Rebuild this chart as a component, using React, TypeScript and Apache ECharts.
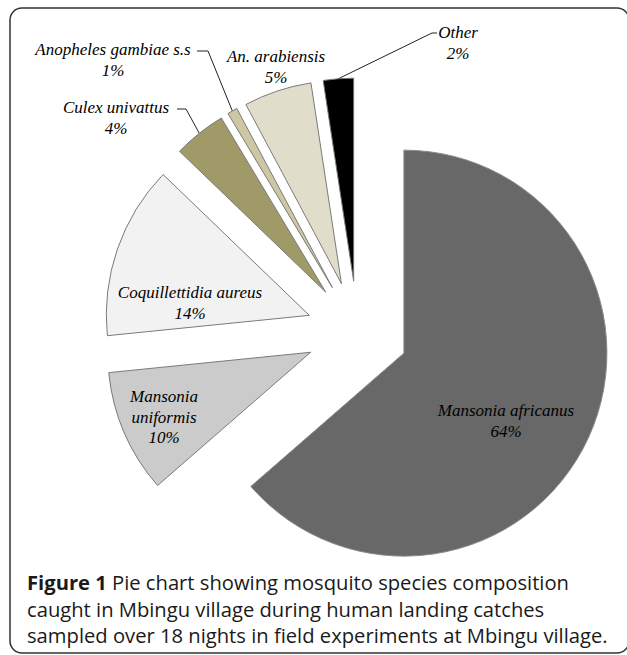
import React, { useEffect, useRef } from "react";
import * as echarts from "echarts";

// ---- data ----
const categories = [
  "Mansonia africanus",
  "Mansonia uniformis",
  "Coquillettidia aureus",
  "Culex univattus",
  "Anopheles gambiae s.s",
  "An. arabiensis",
  "Other",
];
const labelNames = [
  "Mansonia africanus",
  "Mansonia\nuniformis",
  "Coquillettidia aureus",
  "Culex univattus",
  "Anopheles gambiae s.s",
  "An. arabiensis",
  "Other",
];
// shares (labels show them rounded)
const values = [63.6, 9.8, 13.8, 4.2, 0.8, 5.4, 2.4];
const colors = ["#686868", "#cbcbcb", "#f2f2f2", "#a09a68", "#cdc7a4", "#e1ddcb", "#000000"];

const captionBold = "Figure 1";
const captionLines = [
  " Pie chart showing mosquito species composition",
  "caught in Mbingu village during human landing catches",
  "sampled over 18 nights in field experiments at Mbingu village.",
];

// ---- layout (not data) ----
const CX = 357.5;
const CY = 332;
const R = 203;
const EXPLODE = 51;
// label block centres
const labelPos: [number, number][] = [
  [506, 421],
  [164, 417],
  [190, 303],
  [116, 118],
  [113, 60],
  [276, 67],
  [458, 43],
];
// leader line: [elbow, end] or null
const leaders: ([number, number][] | null)[] = [
  null,
  null,
  null,
  [[186, 109], [177, 109]],
  [[208, 51], [197, 51]],
  null,
  [[432, 33], [437, 33]],
];
const insideLabel = [true, true, true, false, false, false, false];

export default function App() {
  const ref = useRef<HTMLDivElement>(null);
  useEffect(() => {
    if (!ref.current) return;
    const chart = echarts.init(ref.current, undefined, { renderer: "svg" });
    const total = values.reduce((a, b) => a + b, 0);
    let acc = 0;
    const mids = values.map((v) => {
      const m = (acc + v / 2) / total;
      acc += v;
      return m * Math.PI * 2;
    });

    const series = categories.map((_, i) => {
      const th = mids[i];
      const dx = Math.sin(th);
      const dy = -Math.cos(th);
      const cx = CX + EXPLODE * dx;
      const cy = CY + EXPLODE * dy;
      return {
        type: "pie",
        center: [cx, cy],
        radius: R,
        startAngle: 90,
        clockwise: true,
        silent: true,
        avoidLabelOverlap: false,
        minShowLabelAngle: 0,
        z: 2,
        label: {
          position: insideLabel[i] ? "inside" : "outside",
          fontFamily: "Liberation Serif",
          fontStyle: "italic",
          fontSize: 17,
          lineHeight: 20.5,
          color: "#000",
          formatter: (p: any) => `${labelNames[p.dataIndex]}\n${Math.round(p.percent)}%`,
        },
        labelLine: {
          show: true,
          length: 10,
          length2: 10,
          smooth: false,
          lineStyle: { color: "#222", width: 1 },
        },
        labelLayout: (p: any) => {
          if (p.dataIndex !== i) return {};
          const out: any = {
            x: labelPos[i][0],
            y: labelPos[i][1],
            align: "center",
            verticalAlign: "middle",
          };
          const ld = leaders[i];
          if (ld) {
            const start: [number, number] = [cx + R * dx, cy + R * dy];
            out.labelLinePoints = [start, ld[0], ld[1]];
          }
          return out;
        },
        emphasis: { disabled: true },
        data: categories.map((name, j) => ({
          name,
          value: values[j],
          itemStyle:
            j === i
              ? { color: colors[j], borderColor: j === 0 ? "#8a8a8a" : "#7a7a7a", borderWidth: 1 }
              : { color: "rgba(0,0,0,0)", borderWidth: 0 },
          label: { show: j === i },
          labelLine: { show: j === i && !!leaders[i] },
        })),
      };
    });

    chart.setOption({
      animation: false,
      backgroundColor: "#ffffff",
      series,
      graphic: [
        {
          type: "rect",
          shape: { x: 10, y: 8, width: 619, height: 645, r: 12 },
          style: { fill: "none", stroke: "#333", lineWidth: 1.5 },
          z: 10,
        },
        {
          type: "text",
          x: 27,
          y: 569,
          z: 10,
          style: {
            text: `{b|${captionBold}}${captionLines[0]}\n${captionLines[1]}\n${captionLines[2]}`,
            fontFamily: "Open Sans",
            fontSize: 20.2,
            lineHeight: 26.5,
            fill: "#1a1a1a",
            rich: {
              b: { fontFamily: "Open Sans", fontWeight: "bold", fontSize: 20.2, lineHeight: 26.5, fill: "#1a1a1a" },
            },
          },
        },
      ],
    });
    return () => chart.dispose();
  }, []);
  return (
    <div
      ref={ref}
      style={{ position: "absolute", left: 0, top: 0, width: 627, height: 655 }}
    />
  );
}
